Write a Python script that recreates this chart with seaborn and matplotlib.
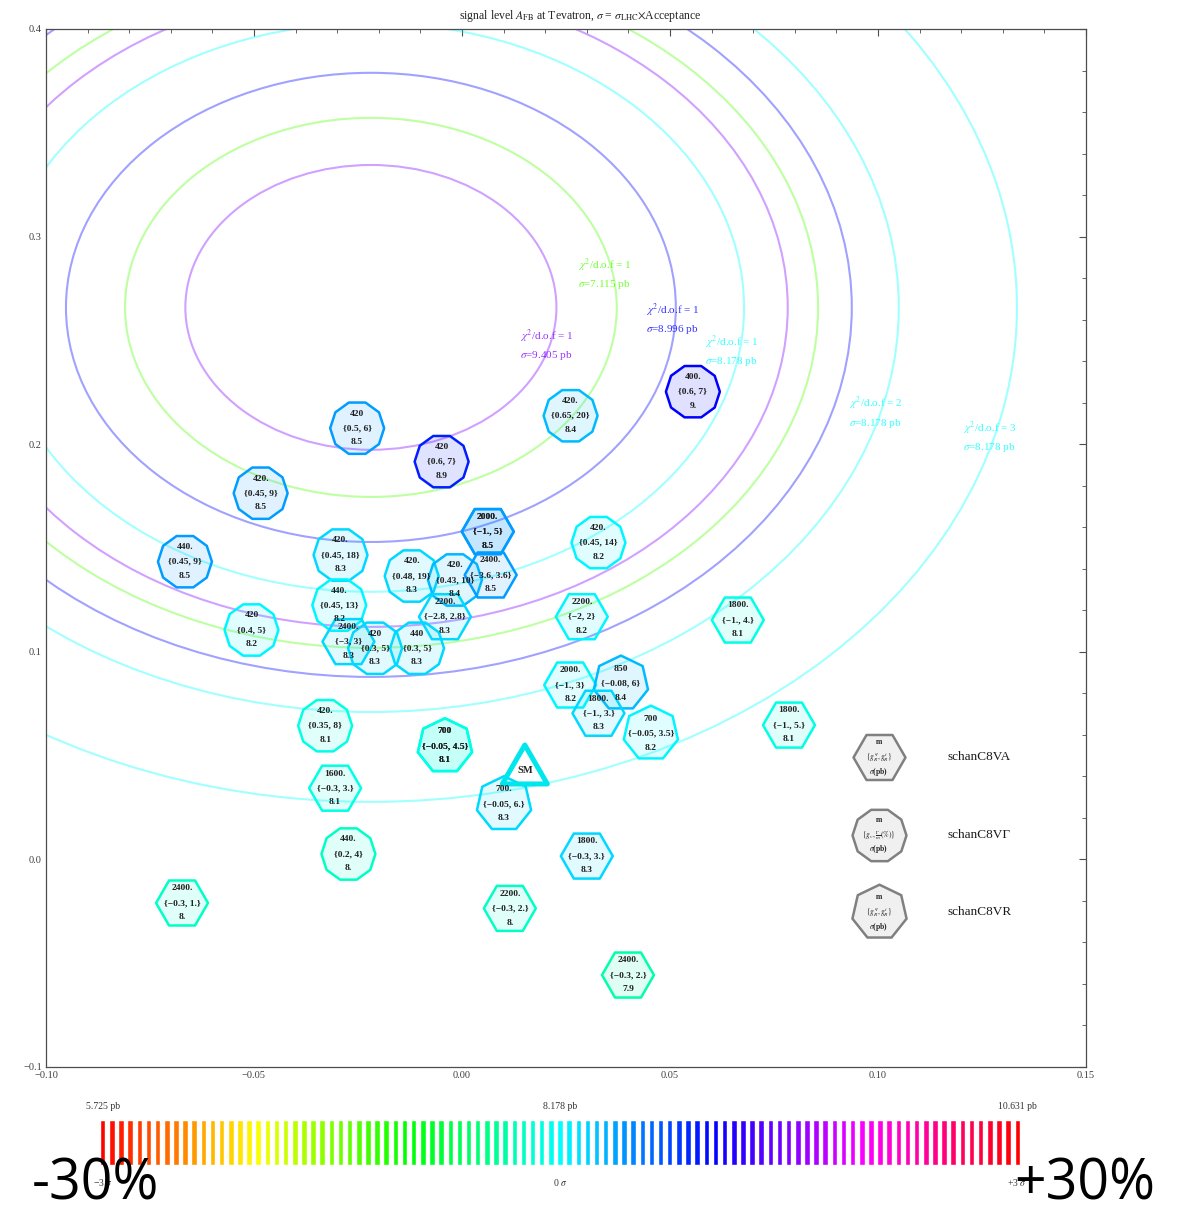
import numpy as np
import pandas as pd
import matplotlib
matplotlib.use("Agg")
import matplotlib.pyplot as plt
from matplotlib.colors import hsv_to_rgb, LinearSegmentedColormap
from matplotlib.patches import Ellipse
from matplotlib.ticker import MultipleLocator, FuncFormatter
from matplotlib.transforms import blended_transform_factory
import seaborn as sns

W, H = 1184, 1207

# cross-section range of the colour wheel (pb)
SIGMA_LOW, SIGMA_SM, SIGMA_HIGH = 5.725, 8.178, 10.631

# ---- benchmark points -------------------------------------------------------
model = ["schanC8V\u0393", "schanC8V\u0393", "schanC8V\u0393", "schanC8V\u0393",
         "schanC8V\u0393", "schanC8V\u0393", "schanC8V\u0393", "schanC8VA",
         "schanC8V\u0393", "schanC8V\u0393", "schanC8V\u0393", "schanC8V\u0393",
         "schanC8VA", "schanC8VA", "schanC8VA", "schanC8VA",
         "schanC8V\u0393", "schanC8V\u0393", "schanC8V\u0393", "schanC8VA",
         "schanC8VA", "schanC8VA", "schanC8VR", "schanC8VA",
         "schanC8VR", "schanC8VA", "schanC8V\u0393", "schanC8VR",
         "schanC8VR", "schanC8VA", "schanC8VR", "schanC8V\u0393",
         "schanC8VA", "schanC8VA", "schanC8VA", "schanC8VA"]
mass_label = ["420", "420", "420.", "440.",
              "420.", "440.", "420", "2400.",
              "420", "440", "420.", "420.",
              "2400.", "2000.", "2000.", "2200.",
              "420.", "400.", "420.", "2200.",
              "1800.", "2000.", "850", "1800.",
              "700", "1800.", "420.", "700",
              "700", "1600.", "700.", "440.",
              "1800.", "2400.", "2200.", "2400."]
coupling_label = ["{0.5, 6}", "{0.6, 7}", "{0.45, 9}", "{0.45, 9}",
                  "{0.45, 18}", "{0.45, 13}", "{0.4, 5}", "{\u22123, 3}",
                  "{0.3, 5}", "{0.3, 5}", "{0.48, 19}", "{0.43, 10}",
                  "{\u22123.6, 3.6}", "{\u22121., 5}", "{\u22121., 5}", "{\u22122.8, 2.8}",
                  "{0.65, 20}", "{0.6, 7}", "{0.45, 14}", "{\u22122, 2}",
                  "{\u22121., 4.}", "{\u22121., 3}", "{\u22120.08, 6}", "{\u22121., 3.}",
                  "{\u22120.05, 3.5}", "{\u22121., 5.}", "{0.35, 8}", "{\u22120.05, 4.5}",
                  "{\u22120.05, 4.5}", "{\u22120.3, 3.}", "{\u22120.05, 6.}", "{0.2, 4}",
                  "{\u22120.3, 3.}", "{\u22120.3, 1.}", "{\u22120.3, 2.}", "{\u22120.3, 2.}"]
sigma_label = ["8.5", "8.9", "8.5", "8.5",
               "8.3", "8.2", "8.2", "8.3",
               "8.3", "8.3", "8.3", "8.4",
               "8.5", "8.5", "8.5", "8.3",
               "8.4", "9.", "8.2", "8.2",
               "8.1", "8.2", "8.4", "8.3",
               "8.2", "8.1", "8.1", "8.1",
               "8.1", "8.1", "8.3", "8.",
               "8.3", "8.", "8.", "7.9"]
afb_x = [-0.0252, -0.0049, -0.0484, -0.0666,
         -0.0292, -0.0295, -0.0506, -0.0273,
         -0.0209, -0.0108, -0.0121, -0.0017,
         0.0069, 0.0062, 0.0062, -0.0041,
         0.0261, 0.0555, 0.0328, 0.0288,
         0.0663, 0.0260, 0.0382, 0.0328,
         0.0454, 0.0786, -0.0329, -0.0041,
         -0.0041, -0.0305, 0.0101, -0.0273,
         0.0300, -0.0673, 0.0115, 0.0399]
afb_y = [0.2077, 0.1916, 0.1764, 0.1434,
         0.1466, 0.1225, 0.1105, 0.1049,
         0.1017, 0.1017, 0.1365, 0.1346,
         0.1370, 0.1579, 0.1579, 0.1169,
         0.2137, 0.2253, 0.1526, 0.1169,
         0.1153, 0.0840, 0.0848, 0.0704,
         0.0607, 0.0647, 0.0644, 0.0546,
         0.0546, 0.0343, 0.0267, 0.0026,
         0.0016, -0.0210, -0.0236, -0.0557]
sigma_pb = [float(s) for s in sigma_label]

# Standard Model point
sm_x, sm_y = 0.0151, 0.0426

# ---- chi^2 contours (concentric ellipses) -----------------------------------
chi2_center = (-0.0219, 0.2659)
contour_sigma = [9.405, 7.115, 8.996, 8.178, 9.405, 7.115, 8.996, 8.178, 8.178]
contour_chi2 = [1, 1, 1, 1, 2, 2, 2, 2, 3]
contour_half_x = [0.0446, 0.0591, 0.0733, 0.0897, 0.1002, 0.1075, 0.1156, 0.1269, 0.1553]
contour_half_y = [0.0686, 0.0913, 0.1130, 0.1370, 0.1539, 0.1640, 0.1780, 0.1949, 0.2382]

label_sigma = [9.405, 7.115, 8.996, 8.178, 8.178, 8.178]
label_chi2 = [1, 1, 1, 1, 2, 3]
label_x = [0.0139, 0.0279, 0.0442, 0.0584, 0.0930, 0.1204]
label_y = [0.2478, 0.2822, 0.2605, 0.2449, 0.2153, 0.2037]

# ---- legend ---------------------------------------------------------------
legend_model = ["schanC8VA", "schanC8V\u0393", "schanC8VR"]
legend_coupling = [r"$\{g^q_R,g^t_R\}$", r"$\{g_v,\frac{\Gamma}{m}(\%)\}$", r"$\{g^q_R,g^t_R\}$"]
legend_x = 0.1002
legend_y = [0.0493, 0.0118, -0.0253]
legend_text_x = 0.1166

MODEL_MARKER = {"schanC8VA": "H", "schanC8V\u0393": (10, 0, 18), "schanC8VR": (7, 0, 0)}
MODEL_SIZE = {"schanC8VA": 1400, "schanC8V\u0393": 1510, "schanC8VR": 1600}

# colour bar
n_stripes = 101
bar_top_label = ["5.725 pb", "8.178 pb", "10.631 pb"]
bar_bottom_label = ["\u22123 $\\sigma$", "0 $\\sigma$", "+3 $\\sigma$"]


def sigma_rgb(s):
    h = (s - SIGMA_LOW) / (SIGMA_HIGH - SIGMA_LOW)
    return tuple(hsv_to_rgb((h % 1.0, 1.0, 1.0)))


wheel = LinearSegmentedColormap.from_list(
    "sigma_wheel", [hsv_to_rgb((h, 1.0, 1.0)) for h in np.linspace(0, 1, 13)])

sns.set_style("white")
plt.rcParams["font.family"] = ["Liberation Serif", "DejaVu Serif"]
plt.rcParams["mathtext.fontset"] = "stix"

fig = plt.figure(figsize=(W / 100, H / 100), dpi=100)


def fx(px):
    return px / W


def fy(py):
    return 1 - py / H


ax = fig.add_axes([fx(46), fy(1067), (1086 - 46) / W, (1067 - 29) / H])

# contours
for s, a, b in zip(contour_sigma, contour_half_x, contour_half_y):
    ax.add_patch(Ellipse(chi2_center, 2 * a, 2 * b, fill=False,
                         ec=(*sigma_rgb(s), 0.37), lw=1.5, zorder=1))
for s, k, x, y in zip(label_sigma, label_chi2, label_x, label_y):
    ax.text(x, y, rf"$\chi^2$/d.o.f = {k}" + "\n" + rf"$\sigma$={s:.3f} pb",
            color=(*sigma_rgb(s), 0.8), fontsize=8, ha="left", va="center",
            linespacing=1.45, zorder=2)

# benchmark markers
df = pd.DataFrame(dict(model=model, afb_x=afb_x, afb_y=afb_y, sigma=sigma_pb))
sns.scatterplot(data=df, x="afb_x", y="afb_y", hue="sigma",
                hue_norm=(SIGMA_LOW, SIGMA_HIGH), palette=wheel,
                style="model", markers=MODEL_MARKER,
                size="model", sizes=MODEL_SIZE,
                linewidth=1.8, legend=False, ax=ax, zorder=4)
pts = ax.collections[-1]
face = np.array(pts.get_facecolors())
pts.set_edgecolors(face.copy())
face[:, 3] = 0.12
pts.set_facecolors(face)

for x, y, m, c, s in zip(afb_x, afb_y, mass_label, coupling_label, sigma_label):
    for dy, t in zip((10.5, 0, -10.2), (m, c, s)):
        ax.annotate(t, (x, y), xytext=(0, dy), textcoords="offset points",
                    ha="center", va="center", fontsize=6.8, fontweight="bold",
                    color=(0.12, 0.12, 0.12), zorder=6)

# Standard Model
ax.scatter([sm_x], [sm_y], marker=(3, 0, 0), s=1400, facecolors="none",
           edgecolors=[(0.0, 0.9, 0.93)], linewidths=3.6, zorder=5)
ax.text(sm_x, sm_y, "SM", ha="center", va="center", fontsize=7.5,
        fontweight="bold", color=(0.15, 0.15, 0.15), zorder=6)

# legend
for name, coup, y in zip(legend_model, legend_coupling, legend_y):
    ax.scatter([legend_x], [y], marker=MODEL_MARKER[name], s=MODEL_SIZE[name],
               facecolors=[(0.94, 0.94, 0.94)], edgecolors=[(0.5, 0.5, 0.5)],
               linewidths=1.8, zorder=4)
    for dy, t in zip((10.5, 0, -10.5), ("m", coup, r"$\sigma$(pb)")):
        ax.annotate(t, (legend_x, y), xytext=(0, dy), textcoords="offset points",
                    ha="center", va="center", fontsize=5.5, fontweight="bold",
                    color=(0.15, 0.15, 0.15), zorder=6)
    ax.text(legend_text_x, y, name, ha="left", va="center", fontsize=9.5,
            color=(0.1, 0.1, 0.1))

# axes frame
ax.set_xlim(-0.10, 0.15)
ax.set_ylim(-0.10, 0.40)
ax.set_xlabel("")
ax.set_ylabel("")
ax.xaxis.set_major_locator(MultipleLocator(0.05))
ax.xaxis.set_minor_locator(MultipleLocator(0.01))
ax.yaxis.set_major_locator(MultipleLocator(0.1))
ax.yaxis.set_minor_locator(MultipleLocator(0.02))
ax.xaxis.set_major_formatter(FuncFormatter(lambda v, p: f"{v:.2f}".replace("-", "\u2212")))
ax.yaxis.set_major_formatter(FuncFormatter(lambda v, p: f"{v:.1f}".replace("-", "\u2212")))
ax.tick_params(which="both", direction="in", top=True, right=True,
               color=(0.3, 0.3, 0.3), labelcolor=(0.25, 0.25, 0.25), labelsize=7.5)
ax.tick_params(which="major", length=5, width=0.8, pad=3)
ax.tick_params(which="minor", length=2.8, width=0.6)
for sp in ax.spines.values():
    sp.set_color((0.3, 0.3, 0.3))
    sp.set_linewidth(0.9)

fig.text(fx(580), fy(16), r"signal level $A_{\rm FB}$ at Tevatron, $\sigma$ = $\sigma_{\rm LHC}$$\times$Acceptance",
         ha="center", va="center", fontsize=8.5, color=(0.15, 0.15, 0.15))

# colour bar of sigma
cax = fig.add_axes([fx(100), fy(1165), 920 / W, 45 / H])
cats = [str(i) for i in range(n_stripes)]
stripe_colors = {c: hsv_to_rgb((i / (n_stripes - 1), 1.0, 1.0)) for i, c in enumerate(cats)}
sns.barplot(x=cats, y=np.ones(n_stripes), hue=cats, palette=stripe_colors,
            saturation=1, width=0.6, errorbar=None, legend=False, ax=cax)
cax.set_xlim(-0.3, n_stripes - 1 + 0.3)
cax.set_ylim(0, 1)
cax.axis("off")
tr = blended_transform_factory(cax.transData, cax.transAxes)
for xi, t in zip((0, (n_stripes - 1) / 2, n_stripes - 1), bar_top_label):
    cax.text(xi, 1.3, t, transform=tr, ha="center", va="center", fontsize=7,
             color=(0.2, 0.2, 0.2))
for xi, t in zip((0, (n_stripes - 1) / 2, n_stripes - 1), bar_bottom_label):
    cax.text(xi, -0.4, t, transform=tr, ha="center", va="center", fontsize=7,
             color=(0.2, 0.2, 0.2))

fig.text(fx(95), fy(1199), "-30%", ha="center", va="baseline", fontsize=40,
         family=["Open Sans", "DejaVu Sans"], color="black")
fig.text(fx(1085), fy(1199), "+30%", ha="center", va="baseline", fontsize=40,
         family=["Open Sans", "DejaVu Sans"], color="black")

fig.savefig("out.png", dpi=100)
